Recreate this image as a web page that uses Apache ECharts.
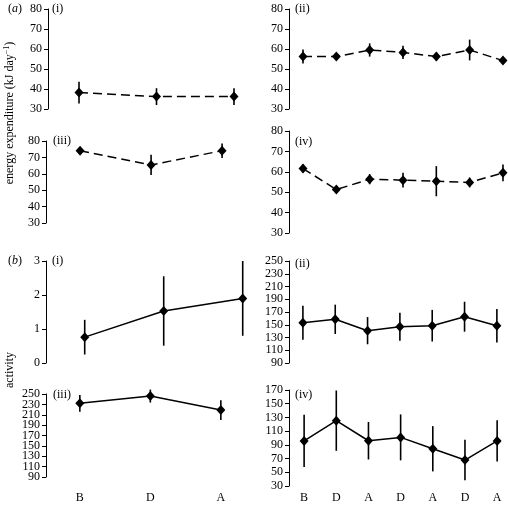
<!DOCTYPE html>
<html>
<head>
<meta charset="utf-8">
<script src="https://cdn.jsdelivr.net/npm/echarts@6/dist/echarts.min.js"></script>
<style>html,body{margin:0;padding:0;background:#fff}#c{width:508px;height:507px}</style>
</head>
<body>
<div id="c"></div>
<script>
// ---- data ----
const catsShort = ['B', 'D', 'A'];
const catsLong = ['B', 'D', 'A', 'D', 'A', 'D', 'A'];

// (a) energy expenditure (kJ day-1): mean and error
const energyI = [38.2, 36.2, 36.2];
const energyIErr = [5.4, 4.2, 4.2];
const energyII = [56.2, 56.2, 59.5, 58.3, 56.2, 59.5, 54.2];
const energyIIErr = [3.5, 1.5, 3.3, 3.3, 2.0, 5.2, 1.2];
const energyIII = [74.1, 65.4, 74.1];
const energyIIIErr = [1.5, 6.2, 4.4];
const energyIV = [61.6, 51.3, 56.4, 55.9, 55.4, 54.8, 59.5];
const energyIVErr = [2.0, 1.0, 2.5, 3.6, 7.4, 2.4, 4.1];

// (b) activity: mean and error
const activityI = [0.76, 1.53, 1.9];
const activityIErr = [0.51, 1.02, 1.1];
const activityII = [153, 158.5, 140.7, 147, 148.5, 162.6, 148.5];
const activityIIErr = [26.7, 23, 21.3, 22, 24.8, 23.5, 26.4];
const activityIII = [232, 246, 219];
const activityIIIErr = [16, 12.5, 19];
const activityIV = [95.8, 125.3, 96, 100.9, 84.3, 67.8, 95.8];
const activityIVErr = [38.2, 44, 27.3, 33.5, 33, 29.5, 30];

// tick labels
const energyTicks = [30, 40, 50, 60, 70, 80];
const activityITicks = [0, 1, 2, 3];
const activityTicks = [90, 110, 130, 150, 170, 190, 210, 230, 250];
const activityIVTicks = [30, 50, 70, 90, 110, 130, 150, 170];
const panelLabels = ['(i)', '(ii)', '(iii)', '(iv)', '(i)', '(ii)', '(iii)', '(iv)'];

// ---- layout ----
const FONT = 'Liberation Serif';
const panels = [
  {L:48, T:9,   H:100, xmin:-0.4,  xmax:2.1, s:77.5, ticks:energyTicks,     m:energyI,     e:energyIErr,     cats:catsShort, dash:true,  lab:[52,3]},
  {L:289,T:9,   H:100, xmin:-0.42, xmax:6.1, s:33.33,ticks:energyTicks,     m:energyII,    e:energyIIErr,    cats:catsLong,  dash:true,  lab:[295,3]},
  {L:46, T:141, H:82,  xmin:-0.48, xmax:2.1, s:71,   ticks:energyTicks,     m:energyIII,   e:energyIIIErr,   cats:catsShort, dash:true,  lab:[53,135]},
  {L:289,T:131, H:102, xmin:-0.42, xmax:6.1, s:33.33,ticks:energyTicks,     m:energyIV,    e:energyIVErr,    cats:catsLong,  dash:true,  lab:[295,136]},
  {L:46, T:261, H:102, xmin:-0.49, xmax:2.1, s:79,   ticks:activityITicks,  m:activityI,   e:activityIErr,   cats:catsShort, dash:false, lab:[52,255]},
  {L:289,T:261, H:102, xmin:-0.43, xmax:6.2, s:32.33,ticks:activityTicks,   m:activityII,  e:activityIIErr,  cats:catsLong,  dash:false, lab:[295,258]},
  {L:46, T:394, H:83,  xmin:-0.48, xmax:2.2, s:70.5, ticks:activityTicks,   m:activityIII, e:activityIIIErr, cats:catsShort, dash:false, lab:[53,389], showX:true, margin:15, split:true},
  {L:289,T:390, H:96,  xmin:-0.47, xmax:6.2, s:32.17,ticks:activityIVTicks, m:activityIV,  e:activityIVErr,  cats:catsLong,  dash:false, lab:[295,389], showX:true, margin:6}
];

const grid = [], xAxis = [], yAxis = [], series = [], title = [];
function makeY(i, t, values, showLine) {
  return {
    gridIndex: i, type: 'value', min: t[0], max: t[t.length - 1], position: 'left', offset: 0,
    axisLine: {show: showLine, onZero: false, lineStyle: {color: '#000', width: 1}},
    axisTick: {show: true, inside: false, length: 4, customValues: values, lineStyle: {color: '#000', width: 1}},
    axisLabel: {customValues: values, margin: 6, fontFamily: FONT, fontSize: 12, color: '#000',
      hideOverlap: false, showMinLabel: true, showMaxLabel: true},
    splitLine: {show: false}
  };
}
panels.forEach((p, i) => {
  const W = (p.xmax - p.xmin) * p.s;
  grid.push({left: p.L, top: p.T, width: W, height: p.H, containLabel: false});
  const idx = p.m.map((_, k) => k);
  xAxis.push({
    gridIndex: i, type: 'value', min: p.xmin, max: p.xmax,
    show: !!p.showX,
    axisLine: {show: false, onZero: false}, axisTick: {show: false}, splitLine: {show: false},
    axisLabel: {
      show: !!p.showX, customValues: idx, margin: p.margin || 8,
      formatter: v => p.cats[Math.round(v)] || '',
      fontFamily: FONT, fontSize: 12, color: '#000', hideOverlap: false
    }
  });
  const t = p.ticks;
  const yi = yAxis.length;
  if (p.split) {
    yAxis.push(makeY(i, t, t.filter((_, k) => k % 2 === 0), true));
    yAxis.push(makeY(i, t, t.filter((_, k) => k % 2 === 1), false));
  } else {
    yAxis.push(makeY(i, t, t, true));
  }
  series.push({
    type: 'custom', xAxisIndex: i, yAxisIndex: yi, clip: false, silent: true,
    encode: {x: 0, y: [1, 2]},
    data: p.m.map((v, k) => [k, v - p.e[k], v + p.e[k]]),
    renderItem: (params, api) => {
      const a = api.coord([api.value(0), api.value(1)]);
      const b = api.coord([api.value(0), api.value(2)]);
      return {type: 'line', shape: {x1: a[0], y1: a[1], x2: b[0], y2: b[1]}, style: {stroke: '#000', lineWidth: 1.6}};
    },
    z: 2
  });
  series.push({
    type: 'line', xAxisIndex: i, yAxisIndex: yi, clip: false, silent: true,
    data: p.m.map((v, k) => [k, v]),
    symbol: 'diamond', symbolSize: [9, 10],
    itemStyle: {color: '#000'},
    lineStyle: {color: '#000', width: 1.5, type: p.dash ? [9, 5] : 'solid'},
    animation: false, z: 3
  });
  title.push({text: panelLabels[i], left: p.lab[0], top: p.lab[1],
    textStyle: {fontFamily: FONT, fontSize: 12, fontWeight: 'normal', color: '#000'}, padding: 0});
});
title.push({text: '({i|a})', left: 8, top: 3, padding: 0,
  textStyle: {fontFamily: FONT, fontSize: 12, fontWeight: 'normal', color: '#000',
    rich: {i: {fontFamily: FONT, fontSize: 12, fontStyle: 'italic', color: '#000'}}}});
title.push({text: '({i|b})', left: 8, top: 255, padding: 0,
  textStyle: {fontFamily: FONT, fontSize: 12, fontWeight: 'normal', color: '#000',
    rich: {i: {fontFamily: FONT, fontSize: 12, fontStyle: 'italic', color: '#000'}}}});

const chart = echarts.init(document.getElementById('c'), null, {renderer: 'canvas'});
chart.setOption({
  animation: false,
  title, grid, xAxis, yAxis, series,
  graphic: [
    {type: 'text', x: 10, y: 113, rotation: Math.PI / 2,
      style: {text: 'energy expenditure (kJ day{s|−1})', fontFamily: FONT, fontSize: 12, fill: '#000',
        align: 'center', verticalAlign: 'middle',
        rich: {s: {fontFamily: FONT, fontSize: 8, verticalAlign: 'top', padding: [0, 0, 6, 0]}}}},
    {type: 'text', x: 10, y: 370, rotation: Math.PI / 2,
      style: {text: 'activity', fontFamily: FONT, fontSize: 12, fill: '#000', align: 'center', verticalAlign: 'middle'}}
  ]
});
</script>
</body>
</html>
